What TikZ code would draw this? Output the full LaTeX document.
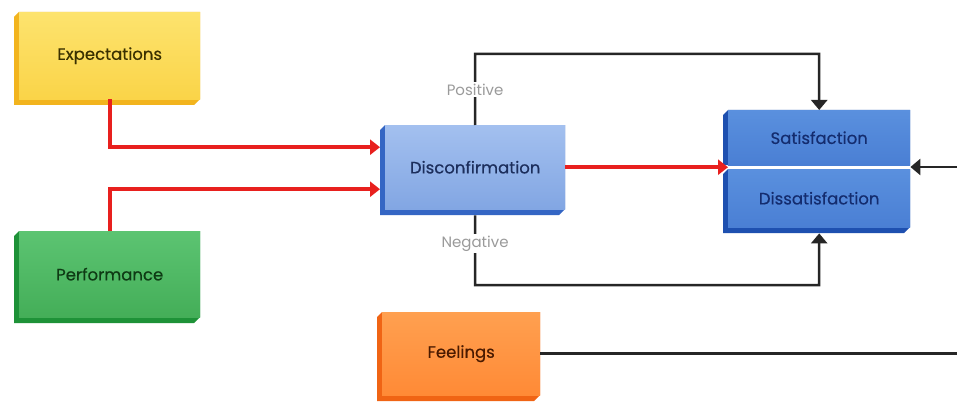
\documentclass[tikz,border=0pt]{standalone}
\usepackage{fontspec}
\setmainfont{Poppins}
\newfontfamily\boxfont{Poppins}[FakeBold=0.4]
\usetikzlibrary{arrows.meta}
\definecolor{ydark}{HTML}{F2B41E}
\definecolor{ytop}{HTML}{FDE36E}
\definecolor{ybot}{HTML}{FAD448}
\definecolor{gdark}{HTML}{1E9238}
\definecolor{gtop}{HTML}{5CC472}
\definecolor{gbot}{HTML}{44AE58}
\definecolor{bdark}{HTML}{3466C4}
\definecolor{btop}{HTML}{A3C0EF}
\definecolor{bbot}{HTML}{82A6E3}
\definecolor{sdark}{HTML}{1E50B0}
\definecolor{stop}{HTML}{5A90DE}
\definecolor{sbot}{HTML}{4A7FD4}
\definecolor{odark}{HTML}{F06414}
\definecolor{otop}{HTML}{FFA050}
\definecolor{obot}{HTML}{FF8A36}
\definecolor{arrred}{HTML}{E8201E}
\definecolor{linegray}{HTML}{262626}
\definecolor{lblgray}{HTML}{9A9A9A}
\tikzset{
  face/.style={inner sep=0pt, font=\boxfont\fontsize{16.5}{19}\selectfont},
  redarrow/.style={draw=arrred, line width=4pt, -{Triangle[length=10pt,width=15pt]}},
  blkline/.style={draw=linegray, line width=2.5pt},
  blkarrow/.style={blkline, -{Triangle[length=10pt,width=16pt]}},
  lbl/.style={fill=white, inner sep=2pt, text=lblgray, font=\fontsize{15}{17}\selectfont},
}
\newcommand{\mybox}[9]{%
  \fill[#6] (#2+5,#3) -- (#2,#3+5) -- (#2,#5) -- (#4-6,#5) -- (#4,#5-6) -- (#4,#3) -- cycle;
  \node[face, top color=#7, bottom color=#8, minimum width={(#4-#2-5)*1pt},
        minimum height={(#5-#3-6)*1pt}, anchor=north west] (#1) at (#2+5,#3) {#9};
}
\begin{document}
\begin{tikzpicture}[x=1pt,y=-1pt]
\useasboundingbox[fill=white] (0,0) rectangle (957,401);
% boxes
\mybox{exp}{14}{12}{200}{105}{ydark}{ytop}{ybot}{\textcolor[HTML]{3A3000}{Expectations}}
\mybox{perf}{14}{231}{200}{323}{gdark}{gtop}{gbot}{\textcolor[HTML]{0E3A14}{Performance}}
\mybox{disc}{380}{125}{565}{215}{bdark}{btop}{bbot}{\textcolor[HTML]{1C2E5C}{Disconfirmation}}
\mybox{feel}{377}{312}{540}{401}{odark}{otop}{obot}{\textcolor[HTML]{4A1A00}{Feelings}}
% satisfaction (no bottom strip)
\fill[sdark] (728,110) -- (723,115) -- (723,165) -- (910,165) -- (910,110) -- cycle;
\node[face, top color=stop, bottom color=sbot, minimum width=182pt, minimum height=55pt,
      anchor=north west] (sat) at (728,110) {\textcolor[HTML]{142C6E}{Satisfaction}};
\mybox{dis}{723}{169}{910}{233}{sdark}{stop}{sbot}{\textcolor[HTML]{142C6E}{Dissatisfaction}}
% coordinates for free ends
\coordinate (ptop) at (475,54);
\coordinate (nbot) at (475,285);
\coordinate (rend) at (957,167);
\coordinate (fend) at (957,353);
% red connectors
\draw[redarrow] (exp.south) |- ([xshift=-5pt,yshift=20pt]disc.west);
\draw[redarrow] (perf.north) |- ([xshift=-5pt,yshift=-22pt]disc.west);
\draw[redarrow] (disc.east) -- (disc.east -| sat.west);
% positive / negative
\draw[blkarrow] (disc.north) -- node[lbl, pos=0.5]{Positive} (ptop) -| (sat.north);
\draw[blkarrow, shorten <=6pt, shorten >=6pt] (disc.south) -- node[lbl, pos=0.45]{Negative} (nbot) -| (dis.south);
% right side
\draw[blkarrow] (rend) -- (rend -| sat.east);
\draw[blkline] (feel.east) -- (fend |- feel.east);
\end{tikzpicture}
\end{document}
